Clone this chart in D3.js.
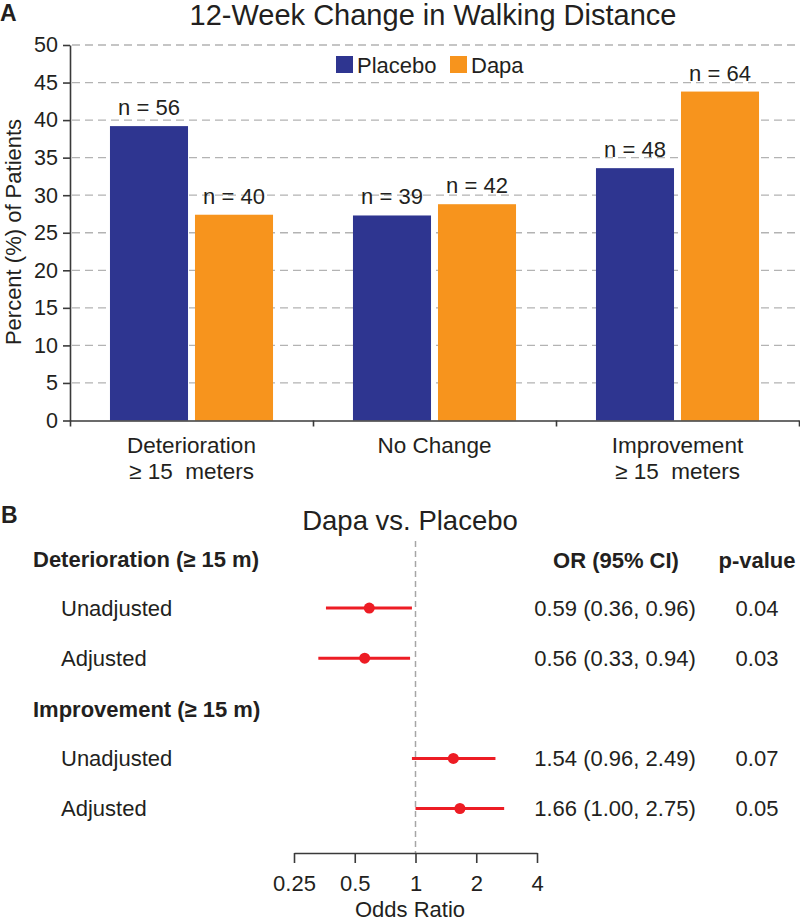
<!DOCTYPE html>
<html>
<head>
<meta charset="utf-8">
<script src="https://cdn.jsdelivr.net/npm/d3@7"></script>
<style>
  html, body { margin: 0; padding: 0; background: #fff; }
  svg { display: block; font-family: "Liberation Sans", Arial, Helvetica, sans-serif; }
  text { fill: #231f20; }
</style>
</head>
<body>
<svg id="chart" width="800" height="922"></svg>
<script>
// ---------- Panel A data ----------
const categories = ["Deterioration", "No Change", "Improvement"];
const categorySub = ["≥ 15  meters", "", "≥ 15  meters"];
const series = ["Placebo", "Dapa"];
const seriesColors = ["#2e3590", "#f7941d"];
const placeboPct = [39.2, 27.3, 33.6];
const dapaPct = [27.4, 28.8, 43.8];
const placeboN = [56, 39, 48];
const dapaN = [40, 42, 64];
const yTicks = [0, 5, 10, 15, 20, 25, 30, 35, 40, 45, 50];

// ---------- Panel B data ----------
const forestLabels = ["Deterioration (≥ 15 m)", "Unadjusted", "Adjusted", "Improvement (≥ 15 m)", "Unadjusted", "Adjusted"];
const forestIsHeader = [true, false, false, true, false, false];
const orValues = [null, 0.59, 0.56, null, 1.54, 1.66];
const ciLow = [null, 0.36, 0.33, null, 0.96, 1.00];
const ciHigh = [null, 0.96, 0.94, null, 2.49, 2.75];
const pValues = [null, "0.04", "0.03", null, "0.07", "0.05"];
const orTicks = [0.25, 0.5, 1, 2, 4];

const svg = d3.select("#chart");
const axisColor = "#3a3a3a";

// ================= PANEL A =================
svg.append("text").attr("x", 0).attr("y", 21).attr("font-size", 23).attr("font-weight", "bold").text("A");
svg.append("text").attr("x", 433).attr("y", 25).attr("text-anchor", "middle").attr("font-size", 29)
  .text("12-Week Change in Walking Distance");

const xLeft = 70, xRight = 799;
const y = d3.scaleLinear().domain([0, 50]).range([420.5, 45]);
const pIn = 0.329;
const x0 = d3.scaleBand().domain(categories).range([xLeft, xRight]).paddingInner(pIn).paddingOuter(pIn / 2);
const x1 = d3.scaleBand().domain(series).range([0, x0.bandwidth()]).paddingInner(0.082);

// gridlines
svg.append("g").selectAll("line").data(yTicks.filter(d => d > 0)).join("line")
  .attr("x1", xLeft + 2).attr("x2", 800)
  .attr("y1", d => y(d)).attr("y2", d => y(d))
  .attr("stroke", "#b3b3b3").attr("stroke-width", 1.3).attr("stroke-dasharray", "8,5");

// bars
const barData = [];
categories.forEach((c, i) => {
  barData.push({ c, s: "Placebo", v: placeboPct[i], n: placeboN[i] });
  barData.push({ c, s: "Dapa", v: dapaPct[i], n: dapaN[i] });
});
const color = d3.scaleOrdinal().domain(series).range(seriesColors);
svg.append("g").selectAll("rect").data(barData).join("rect")
  .attr("x", d => x0(d.c) + x1(d.s))
  .attr("width", x1.bandwidth())
  .attr("y", d => y(d.v))
  .attr("height", d => y(0) - y(d.v))
  .attr("fill", d => color(d.s));
svg.append("g").selectAll("text").data(barData).join("text")
  .attr("x", d => x0(d.c) + x1(d.s) + x1.bandwidth() / 2)
  .attr("y", d => y(d.v) - 11)
  .attr("text-anchor", "middle").attr("font-size", 22)
  .text(d => `n = ${d.n}`);

// y axis
const yAxis = svg.append("g").attr("transform", `translate(${xLeft},0)`)
  .call(d3.axisLeft(y).tickValues(yTicks).tickSize(7).tickPadding(5).tickSizeOuter(0));
yAxis.select(".domain").attr("stroke", axisColor).attr("stroke-width", 1.6);
yAxis.selectAll(".tick line").attr("stroke", axisColor).attr("stroke-width", 1.6);
yAxis.selectAll(".tick text").attr("font-size", 21.5).attr("fill", "#231f20").attr("font-family", null);

// x axis (boundary ticks)
const xAxisScale = d3.scaleLinear().domain([0, 3]).range([xLeft, xRight]);
const xAxis = svg.append("g").attr("transform", `translate(0,${y(0)})`)
  .call(d3.axisBottom(xAxisScale).tickValues([0, 1, 2, 3]).tickSize(6).tickFormat("").tickSizeOuter(0));
xAxis.select(".domain").attr("stroke", axisColor).attr("stroke-width", 1.6);
xAxis.selectAll(".tick line").attr("stroke", axisColor).attr("stroke-width", 1.6);

// category labels
const catG = svg.append("g").selectAll("text").data(categories).join("text")
  .attr("text-anchor", "middle").attr("font-size", 22.5).style("white-space", "pre");
catG.append("tspan").attr("x", d => x0(d) + x0.bandwidth() / 2).attr("y", 453).text(d => d);
catG.append("tspan").attr("x", d => x0(d) + x0.bandwidth() / 2).attr("y", 479)
  .text((d, i) => categorySub[i]);

// y label
svg.append("text").attr("transform", "translate(21,232) rotate(-90)")
  .attr("text-anchor", "middle").attr("font-size", 22).text("Percent (%) of Patients");

// legend
const legX = [336, 450];
series.forEach((s, i) => {
  svg.append("rect").attr("x", legX[i]).attr("y", 56).attr("width", 17).attr("height", 17).attr("fill", seriesColors[i]);
  svg.append("text").attr("x", legX[i] + 21).attr("y", 72.5).attr("font-size", 22).text(s);
});

// ================= PANEL B =================
svg.append("text").attr("x", 1).attr("y", 523).attr("font-size", 23).attr("font-weight", "bold").text("B");
svg.append("text").attr("x", 410).attr("y", 530).attr("text-anchor", "middle").attr("font-size", 27.5)
  .text("Dapa vs. Placebo");

const xf = d3.scaleLog().domain([0.25, 4]).range([294, 537]);
const yf = d3.scalePoint().domain(d3.range(forestLabels.length)).range([558, 808.5]);
const axisY = 853;

// reference line
svg.append("line").attr("x1", xf(1)).attr("x2", xf(1)).attr("y1", 541).attr("y2", axisY)
  .attr("stroke", "#a6a6a6").attr("stroke-width", 1.5).attr("stroke-dasharray", "6,4");

// row labels
svg.append("g").selectAll("text").data(forestLabels).join("text")
  .attr("x", (d, i) => forestIsHeader[i] ? 33 : 61)
  .attr("y", (d, i) => yf(i) + (forestIsHeader[i] ? 1 : 0))
  .attr("dy", "0.35em")
  .attr("font-size", 22)
  .attr("font-weight", (d, i) => forestIsHeader[i] ? "bold" : "normal")
  .text(d => d);

// column headers
svg.append("text").attr("x", 616).attr("y", yf(0) + 2).attr("dy", "0.35em").attr("text-anchor", "middle")
  .attr("font-size", 22).attr("font-weight", "bold").text("OR (95% CI)");
svg.append("text").attr("x", 757).attr("y", yf(0) + 2).attr("dy", "0.35em").attr("text-anchor", "middle")
  .attr("font-size", 22).attr("font-weight", "bold").text("p-value");

const rows = d3.range(forestLabels.length).filter(i => orValues[i] !== null);
const f2 = d3.format(".2f");
const red = "#ed1c24";
svg.append("g").selectAll("line").data(rows).join("line")
  .attr("x1", i => xf(ciLow[i])).attr("x2", i => xf(ciHigh[i]))
  .attr("y1", i => yf(i)).attr("y2", i => yf(i))
  .attr("stroke", red).attr("stroke-width", 3);
svg.append("g").selectAll("circle").data(rows).join("circle")
  .attr("cx", i => xf(orValues[i])).attr("cy", i => yf(i)).attr("r", 5.5).attr("fill", red);
svg.append("g").selectAll("text").data(rows).join("text")
  .attr("x", 615).attr("y", i => yf(i)).attr("dy", "0.35em").attr("text-anchor", "middle")
  .attr("font-size", 22)
  .text(i => `${f2(orValues[i])} (${f2(ciLow[i])}, ${f2(ciHigh[i])})`);
svg.append("g").selectAll("text.p").data(rows).join("text")
  .attr("x", 757).attr("y", i => yf(i)).attr("dy", "0.35em").attr("text-anchor", "middle")
  .attr("font-size", 22).text(i => pValues[i]);

// OR axis
const fAxis = svg.append("g").attr("transform", `translate(0,${axisY})`)
  .call(d3.axisBottom(xf).tickValues(orTicks).tickFormat(d => String(d)).tickSize(10).tickPadding(12).tickSizeOuter(0));
fAxis.select(".domain").attr("stroke", axisColor).attr("stroke-width", 1.6);
fAxis.selectAll(".tick line").attr("stroke", axisColor).attr("stroke-width", 1.6);
fAxis.selectAll(".tick text").attr("font-size", 22).attr("fill", "#231f20").attr("font-family", null);
svg.append("text").attr("x", 410).attr("y", 917).attr("text-anchor", "middle").attr("font-size", 22).text("Odds Ratio");
</script>
</body>
</html>
